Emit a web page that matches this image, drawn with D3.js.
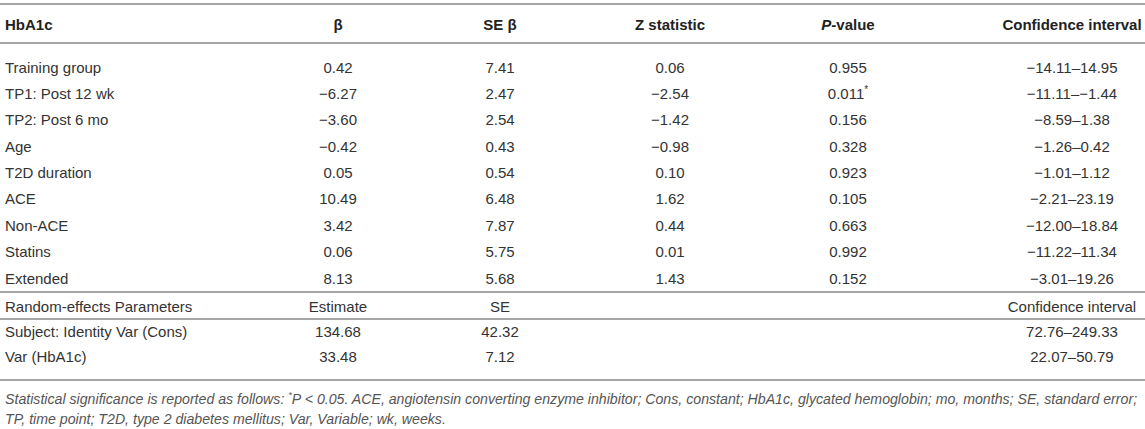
<!DOCTYPE html>
<html>
<head>
<meta charset="utf-8">
<script src="https://cdn.jsdelivr.net/npm/d3@7"></script>
<style>
  body { margin: 0; background: #fff; }
  svg text { font-family: "Liberation Sans", Arial, Helvetica, sans-serif; }
</style>
</head>
<body>
<div id="table"></div>
<script>
// fixed effects
var rowLabels = ['Training group', 'TP1: Post 12 wk', 'TP2: Post 6 mo', 'Age', 'T2D duration',
  'ACE', 'Non-ACE', 'Statins', 'Extended'];
var betaValues = [0.42, -6.27, -3.60, -0.42, 0.05, 10.49, 3.42, 0.06, 8.13];
var seValues = [7.41, 2.47, 2.54, 0.43, 0.54, 6.48, 7.87, 5.75, 5.68];
var zValues = [0.06, -2.54, -1.42, -0.98, 0.10, 1.62, 0.44, 0.01, 1.43];
var pValues = [0.955, 0.011, 0.156, 0.328, 0.923, 0.105, 0.663, 0.992, 0.152];
var ciLow = [-14.11, -11.11, -8.59, -1.26, -1.01, -2.21, -12.00, -11.22, -3.01];
var ciHigh = [14.95, -1.44, 1.38, 0.42, 1.12, 23.19, 18.84, 11.34, 19.26];

// random effects
var randomLabels = ['Subject: Identity Var (Cons)', 'Var (HbA1c)'];
var randomEstimate = [134.68, 33.48];
var randomSE = [42.32, 7.12];
var randomCiLow = [72.76, 22.07];
var randomCiHigh = [249.33, 50.79];

var columns = ['label', 'beta', 'se', 'z', 'p', 'ci'];
var headers = ['HbA1c', 'β', 'SE β', 'Z statistic', 'P-value', 'Confidence interval'];
var randomHeaders = ['Random-effects Parameters', 'Estimate', 'SE', '', '', 'Confidence interval'];

var width = 1145,
    height = 429;

var f2 = d3.format('.2f'),
    f3 = d3.format('.3f');

var svg = d3.select('#table')
  .append('svg')
  .attr('width', width)
  .attr('height', height);

var xCol = d3.scaleOrdinal()
  .domain(columns)
  .range([5, 338, 500, 670, 848, 1072]);

var yRow = d3.scaleLinear()
  .domain([0, rowLabels.length - 1])
  .range([67, 278]);

var yRandom = d3.scaleLinear()
  .domain([0, randomLabels.length])
  .range([306, 356]);

// horizontal rules
var rules = [4, 43, 292, 319, 380];
svg.selectAll('line.rule')
  .data(rules)
  .enter()
  .append('line')
  .attr('class', 'rule')
  .attr('x1', 0)
  .attr('x2', width)
  .attr('y1', function(d) { return d; })
  .attr('y2', function(d) { return d; })
  .attr('stroke', '#a6a6a6')
  .attr('stroke-width', 2);

function anchor(col) {
  return col === 'label' ? 'start' : 'middle';
}

// header row
var head = svg.append('g');
head.selectAll('text')
  .data(columns)
  .enter()
  .append('text')
  .attr('x', function(d) { return xCol(d); })
  .attr('y', 24)
  .attr('dominant-baseline', 'central')
  .attr('text-anchor', anchor)
  .attr('font-size', '15px')
  .attr('font-weight', 'bold')
  .attr('fill', '#222')
  .each(function(d, i) {
    var t = d3.select(this);
    if (d === 'p') {
      t.append('tspan').attr('font-style', 'italic').text('P');
      t.append('tspan').text('-value');
    } else {
      t.text(headers[i]);
    }
  });

// fixed effect rows
var rows = rowLabels.map(function(label, i) {
  return {
    label: label,
    beta: f2(betaValues[i]),
    se: f2(seValues[i]),
    z: f2(zValues[i]),
    p: f3(pValues[i]) + (pValues[i] < 0.05 ? '*' : ''),
    ci: f2(ciLow[i]) + '–' + f2(ciHigh[i])
  };
});

var rowG = svg.selectAll('g.row')
  .data(rows)
  .enter()
  .append('g')
  .attr('class', 'row')
  .attr('transform', function(d, i) { return 'translate(0,' + yRow(i) + ')'; });

rowG.selectAll('text')
  .data(function(d) { return columns.map(function(c) { return {col: c, value: d[c]}; }); })
  .enter()
  .append('text')
  .attr('x', function(d) { return xCol(d.col); })
  .attr('dominant-baseline', 'central')
  .attr('text-anchor', function(d) { return anchor(d.col); })
  .attr('font-size', '15px')
  .attr('fill', '#333')
  .each(function(d) {
    var t = d3.select(this);
    if (d.col === 'p' && d.value.slice(-1) === '*') {
      t.append('tspan').text(d.value.slice(0, -1));
      t.append('tspan').attr('font-size', '10px').attr('dy', -4).text('*');
    } else {
      t.text(d.value);
    }
  });

// random effects block
var randomRows = [randomHeaders.reduce(function(o, h, i) { o[columns[i]] = h; return o; }, {})]
  .concat(randomLabels.map(function(label, i) {
    return {
      label: label,
      beta: f2(randomEstimate[i]),
      se: f2(randomSE[i]),
      z: '',
      p: '',
      ci: f2(randomCiLow[i]) + '–' + f2(randomCiHigh[i])
    };
  }));

var randG = svg.selectAll('g.random')
  .data(randomRows)
  .enter()
  .append('g')
  .attr('class', 'random')
  .attr('transform', function(d, i) { return 'translate(0,' + yRandom(i) + ')'; });

randG.selectAll('text')
  .data(function(d) { return columns.map(function(c) { return {col: c, value: d[c]}; }); })
  .enter()
  .append('text')
  .attr('x', function(d) { return xCol(d.col); })
  .attr('dominant-baseline', 'central')
  .attr('text-anchor', function(d) { return anchor(d.col); })
  .attr('font-size', '15px')
  .attr('fill', '#333')
  .text(function(d) { return d.value; });

// footnote
var note = svg.append('g')
  .attr('font-style', 'italic')
  .attr('fill', '#555');

var line1 = note.append('text')
  .attr('x', 5)
  .attr('y', 399)
  .attr('dominant-baseline', 'central')
  .attr('font-size', '14px');
line1.append('tspan').text('Statistical significance is reported as follows: ');
line1.append('tspan').attr('font-size', '9px').attr('dy', -4).text('*');
line1.append('tspan').attr('dy', 4).text('P < 0.05. ACE, angiotensin converting enzyme inhibitor; Cons, constant; HbA1c, glycated hemoglobin; mo, months; SE, standard error;');

var line2 = note.append('text')
  .attr('x', 5)
  .attr('y', 419)
  .attr('dominant-baseline', 'central')
  .attr('font-size', '14px')
  .text('TP, time point; T2D, type 2 diabetes mellitus; Var, Variable; wk, weeks.');

// fit the first footnote line to the table width
var w1 = line1.node().getComputedTextLength();
var fs = 14 * 1133 / w1;
line1.attr('font-size', fs + 'px');
line1.selectAll('tspan').filter(function(d, i) { return i === 1; }).attr('font-size', (fs * 0.65) + 'px');
line2.attr('font-size', fs + 'px');
</script>
</body>
</html>
